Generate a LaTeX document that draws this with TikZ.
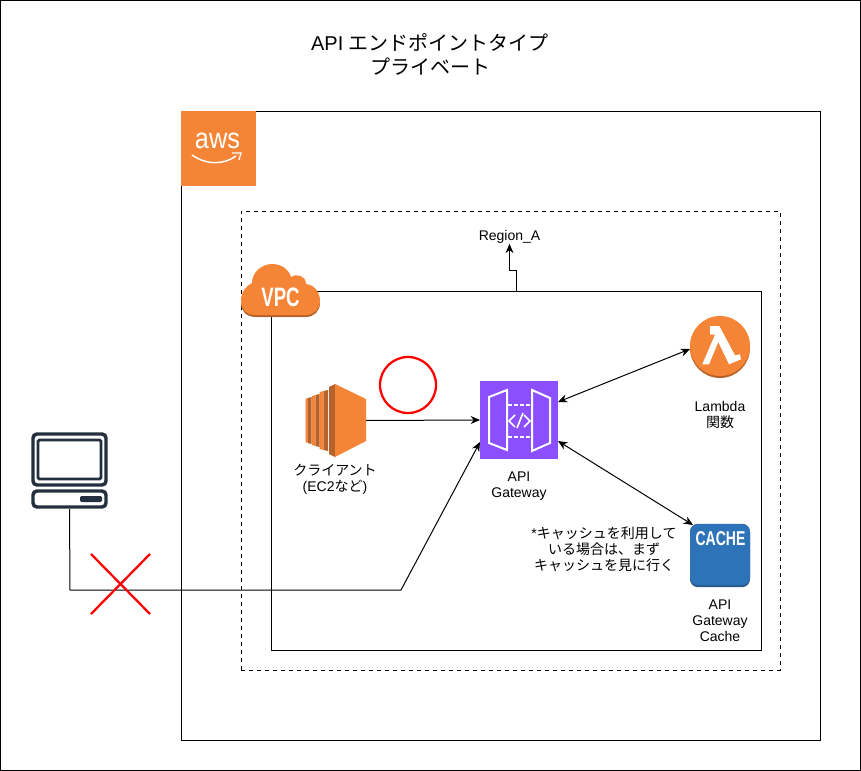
\documentclass[tikz,border=0pt]{standalone}
\usepackage{fontspec}
\usepackage{xcolor}
\setmainfont{Liberation Sans}
\newfontfamily\cjk{Noto Sans CJK JP}
\usetikzlibrary{arrows.meta}
\definecolor{awsorange}{HTML}{F58536}
\definecolor{awsdark}{HTML}{B7622A}
\definecolor{apipurple}{HTML}{8C4FFF}
\definecolor{cacheblue}{HTML}{2E73B8}
\definecolor{cachedark}{HTML}{28598F}
\definecolor{pcdark}{HTML}{232F3E}
\tikzset{
    frame/.style={draw, line width=.75pt, inner sep=0, outer sep=0},
    icon/.style={inner sep=0, outer sep=0},
    label/.style={align=center, inner sep=0, font=\fontsize{10.5}{12}\selectfont},
    link/.style={-{Stealth[length=7pt,width=6pt]}, line width=.75pt},
    biglink/.style={{Stealth[length=7pt,width=6pt]}-{Stealth[length=7pt,width=6pt]}, line width=.75pt},
    whitetext/.style={inner sep=0, text=white},
    gwline/.style={white, line width=1.5pt},
}
\begin{document}
\begin{tikzpicture}[x=0.75pt, y=-0.75pt]
    \useasboundingbox (0, 0) rectangle (861, 771);
    \path (430, 385) node [frame, minimum width=645pt, minimum height=577.5pt] (page) {};
    \path (500.5, 425.5) node [frame, minimum width=479.25pt, minimum height=471.75pt] (aws) {};
    \path (510.5, 440.5) node [frame, dashed, minimum width=404.25pt, minimum height=344.25pt] (region) {};
    \path (516, 470.5) node [frame, minimum width=367.5pt, minimum height=269.25pt] (vpc) {};

    \path (218.5, 148.5) node [icon, fill=awsorange, minimum size=56.25pt] (awslogo) {};
    \path (217.5, 141) node [whitetext, xscale=.88, font=\fontsize{21.6}{22}\selectfont] (awstext) {aws};
    \draw [white, line width=1.1pt] (192, 155) .. controls (206, 165) and (224, 165) .. (236, 156);
    \draw [white, line width=.9pt] (232, 153) -- (241, 153) -- (239, 160);

    \fill [awsdark, shift={(0, 2)}] (256, 315) .. controls (246, 315) and (241, 309) .. (241, 301)
	.. controls (241, 292) and (246, 286) .. (252, 283) .. controls (252, 272) and (262, 264) .. (272, 264)
	.. controls (282, 264) and (289, 270) .. (291, 277) .. controls (297, 273) and (306, 276) .. (306, 284)
	.. controls (315, 285) and (320, 293) .. (320, 301) .. controls (320, 309) and (314, 315) .. (306, 315) -- cycle;
    \fill [awsorange] (256, 315) .. controls (246, 315) and (241, 309) .. (241, 301)
	.. controls (241, 292) and (246, 286) .. (252, 283) .. controls (252, 272) and (262, 264) .. (272, 264)
	.. controls (282, 264) and (289, 270) .. (291, 277) .. controls (297, 273) and (306, 276) .. (306, 284)
	.. controls (315, 285) and (320, 293) .. (320, 301) .. controls (320, 309) and (314, 315) .. (306, 315) -- cycle;
    \path (280.5, 297.5) node [whitetext, xscale=.7, font=\bfseries\fontsize{20}{20}\selectfont] (vpctext) {VPC};

    \path (430, 54) node [align=center, inner sep=0, font=\fontsize{15}{18}\selectfont] (title)
	{API {\cjk エンドポイントタイプ}\\{\cjk プライベート}};
    \path (509.5, 237) node [label] (rg) {Region\_A};
    \draw [link] (vpc.north) -- ++(0, -21) -| (rg.south);

    \path (336, 420.5) node [icon, minimum width=45pt, minimum height=54.75pt] (ec2) {};
    \fill [awsorange] (305.5, 399) -- (308, 398) -- (308, 443) -- (305.5, 442) -- cycle;
    \fill [awsdark] (308, 398) -- (311.5, 397) -- (311.5, 444) -- (308, 443) -- cycle;
    \fill [awsorange] (312, 396) -- (315.5, 395) -- (315.5, 446) -- (312, 445) -- cycle;
    \fill [awsdark] (315.5, 395) -- (319.5, 394) -- (319.5, 447) -- (315.5, 446) -- cycle;
    \fill [awsorange] (319.5, 392) -- (323.5, 391) -- (323.5, 450) -- (319.5, 449) -- cycle;
    \fill [awsdark] (323.5, 391) -- (328, 390) -- (328, 451) -- (323.5, 450) -- cycle;
    \fill [awsdark] (329, 387) -- (335, 384) -- (335, 457) -- (329, 454) -- cycle;
    \fill [awsorange] (335, 384) -- (366, 399) -- (366, 441) -- (335, 457) -- cycle;
    \path (335, 479) node [label] (ec2label) {{\cjk クライアント}\\(EC2{\cjk など})};
    \path (408, 385) node [icon, draw=red, line width=1.7pt, circle, minimum size=42pt] (okmark) {};

    \path (519, 420) node [icon, fill=apipurple, minimum size=58.5pt] (apigw) {};
    \draw [gwline] (489, 397) -- (507, 390) -- (507, 450) -- (489, 443) -- cycle;
    \draw [gwline] (532, 390) -- (550, 398) -- (550, 443) -- (532, 451) -- cycle;
    \draw [gwline, dash pattern=on 3pt off 1.5pt] (508, 405) -- (532, 405);
    \draw [gwline, dash pattern=on 3pt off 1.5pt] (508, 437) -- (532, 437);
    \draw [gwline, line width=1.2pt] (515, 415) -- (509, 421) -- (515, 427);
    \draw [gwline, line width=1.2pt] (523, 413) -- (517, 428);
    \draw [gwline, line width=1.2pt] (524, 415) -- (530, 421) -- (524, 427);
    \path (519, 486.5) node [label] (apilabel) {API\\Gateway};

    \path (720, 347) node [icon, circle, minimum size=45pt] (lambda) {};
    \fill [awsdark] (720, 348) circle [radius=30];
    \fill [awsorange] (720, 346) circle [radius=30];
    \fill [white] (710, 326) -- (719.3, 326) -- (735, 355.3) -- (740, 354.3) -- (741, 359.3) -- (729, 364.3) -- (718.3, 342) -- (709, 364.3) -- (702.3, 364.3) -- (715, 334.7) -- (710, 334.7) -- cycle;
    \path (720, 415) node [label] (lambdalabel) {Lambda\\{\cjk 関数}};

    \path (720, 555.5) node [icon, rounded corners=6pt, fill=cachedark, minimum width=45pt, minimum height=47.5pt] (cache) {};
    \fill [cacheblue, rounded corners=6pt] (690, 524) rectangle (750, 585);
    \path (720.5, 538.5) node [whitetext, xscale=.7, font=\bfseries\fontsize{15}{15}\selectfont] (cachetext) {CACHE};
    \path (720, 620.5) node [label] (cachelabel) {API\\Gateway\\Cache};
    \path (604, 549) node [label] (cachenote)
	{*{\cjk キャッシュを利用して}\\{\cjk いる場合は、まず}\\{\cjk キャッシュを見に行く}};

    \path (69.5, 470.5) node [icon, minimum width=58pt, minimum height=57.75pt] (pc) {};
    \draw [pcdark, line width=2.6pt, rounded corners=3pt] (33, 434) rectangle (106, 485);
    \draw [pcdark, line width=2.2pt, rounded corners=1pt] (38, 440) rectangle (101, 479);
    \draw [pcdark, line width=2.6pt, rounded corners=3pt] (33, 491) rectangle (106, 507);
    \fill [pcdark, rounded corners=1pt] (80, 496) rectangle (102, 502);

    \coordinate (bend1) at (70, 590);
    \coordinate (bend2) at (401, 590);
    \draw [link] (pc.south) -- (bend1) -- (bend2) -- (apigw.west |- 0, 442);
    \draw [link] (ec2.east) -- (apigw.west);
    \draw [biglink] (apigw.east |- 0, 402) -- (lambda.west |- 0, 349);
    \draw [biglink] (apigw.east |- 0, 441) -- (693, 525);

    \coordinate (xa) at (91, 554);
    \coordinate (xb) at (150, 614);
    \coordinate (xc) at (150, 554);
    \coordinate (xd) at (91, 614);
    \draw [red, line width=1.7pt] (xa) -- (xb) (xc) -- (xd);
\end{tikzpicture}
\end{document}
